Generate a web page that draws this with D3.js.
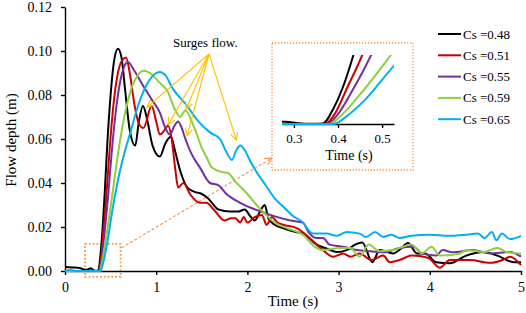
<!DOCTYPE html>
<html lang="en">
<head>
  <meta charset="UTF-8">
  <title>Flow depth vs time</title>
  <script src="https://d3js.org/d3.v7.min.js"></script>
  <style>
    body { margin: 0; background: #fff; }
    svg, svg text { font-family: "Liberation Serif", "Times New Roman", serif; }
    .axis path, .axis line { stroke: #000; stroke-width: 1.4; }
    .axis text { font-size: 14px; fill: #000; font-family: "Liberation Serif", "Times New Roman", serif; }
    .inset .axis text { font-size: 13px; }
    .series { fill: none; stroke-width: 2; stroke-linejoin: round; }
  </style>
</head>
<body>
<svg width="526" height="313"></svg>

<script>
  // Series: [time (s), flow depth (m)]
  const cs048 = [[0,0.0018],[0.08,0.0016],[0.16,0.0014],[0.22,0.0006],[0.25,0.0007],[0.28,0.0012],[0.31,0.0004],[0.34,0.0001],[0.365,0.0002],[0.39,0.008],[0.41,0.018],[0.435,0.035],[0.46,0.055],[0.5,0.08],[0.54,0.096],[0.58,0.101],[0.62,0.097],[0.66,0.082],[0.71,0.064],[0.77,0.057],[0.81,0.068],[0.855,0.075],[0.9,0.069],[0.96,0.057],[1.04,0.052],[1.1,0.058],[1.16,0.061],[1.21,0.054],[1.26,0.046],[1.34,0.038],[1.42,0.036],[1.5,0.035],[1.57,0.033],[1.68,0.028],[1.81,0.027],[1.9,0.027],[1.97,0.028],[2.03,0.025],[2.08,0.023],[2.15,0.028],[2.19,0.03],[2.23,0.024],[2.3,0.021],[2.39,0.0195],[2.5,0.018],[2.61,0.017],[2.76,0.012],[2.88,0.01],[2.98,0.0086],[3.09,0.0095],[3.18,0.012],[3.26,0.013],[3.37,0.004],[3.45,0.0095],[3.6,0.008],[3.68,0.01],[3.76,0.0127],[3.86,0.008],[3.95,0.008],[4.07,0.004],[4.22,0.0035],[4.4,0.007],[4.59,0.0086],[4.74,0.007],[4.92,0.004],[5,0.004]];
  const cs051 = [[0,0],[0.2,0],[0.37,0],[0.395,0.006],[0.42,0.018],[0.455,0.035],[0.48,0.05],[0.53,0.075],[0.58,0.09],[0.63,0.096],[0.67,0.097],[0.71,0.09],[0.76,0.076],[0.81,0.067],[0.86,0.065],[0.95,0.075],[1.0,0.068],[1.04,0.062],[1.09,0.064],[1.13,0.066],[1.17,0.06],[1.21,0.046],[1.24,0.038],[1.3,0.04],[1.37,0.035],[1.48,0.031],[1.55,0.031],[1.63,0.028],[1.75,0.023],[1.82,0.024],[1.87,0.024],[1.92,0.022],[1.96,0.0245],[2.0,0.022],[2.08,0.0245],[2.16,0.0255],[2.21,0.021],[2.27,0.0245],[2.33,0.022],[2.39,0.021],[2.54,0.0195],[2.67,0.0155],[2.8,0.0105],[2.94,0.0065],[3.05,0.008],[3.13,0.0065],[3.23,0.008],[3.36,0.005],[3.49,0.007],[3.56,0.004],[3.67,0.005],[3.8,0.007],[3.98,0.006],[4.11,0.0015],[4.22,0.005],[4.44,0.005],[4.66,0.0037],[4.8,0.005],[4.88,0.0065],[5,0.0027]];
  const cs055 = [[0,0],[0.375,0],[0.4,0.005],[0.43,0.016],[0.475,0.035],[0.5,0.048],[0.55,0.07],[0.6,0.085],[0.65,0.093],[0.69,0.095],[0.76,0.091],[0.86,0.084],[0.95,0.078],[1.04,0.072],[1.1,0.065],[1.15,0.062],[1.2,0.066],[1.24,0.068],[1.28,0.065],[1.32,0.06],[1.39,0.053],[1.48,0.047],[1.59,0.04],[1.68,0.039],[1.77,0.035],[1.92,0.031],[2.05,0.0285],[2.15,0.027],[2.25,0.0255],[2.47,0.023],[2.61,0.022],[2.67,0.0177],[2.76,0.015],[2.83,0.015],[2.9,0.012],[3.05,0.011],[3.2,0.0095],[3.35,0.009],[3.5,0.0085],[3.67,0.0105],[3.82,0.011],[3.91,0.008],[4.07,0.007],[4.14,0.0095],[4.25,0.0085],[4.47,0.0095],[4.66,0.008],[4.88,0.0086],[5,0.0065]];
  const cs059 = [[0,0],[0.38,0],[0.41,0.005],[0.45,0.015],[0.52,0.035],[0.58,0.053],[0.65,0.07],[0.72,0.082],[0.8,0.089],[0.86,0.091],[0.93,0.09],[1.04,0.0855],[1.12,0.082],[1.21,0.073],[1.26,0.07],[1.32,0.073],[1.4,0.067],[1.5,0.056],[1.56,0.051],[1.61,0.047],[1.72,0.045],[1.79,0.0445],[1.86,0.041],[2.0,0.035],[2.1,0.03],[2.17,0.027],[2.3,0.022],[2.43,0.0195],[2.61,0.0164],[2.74,0.011],[2.83,0.0095],[3.02,0.0105],[3.13,0.0105],[3.23,0.0065],[3.33,0.012],[3.45,0.009],[3.6,0.0095],[3.8,0.012],[3.91,0.008],[4.02,0.011],[4.11,0.007],[4.33,0.008],[4.4,0.0095],[4.59,0.0086],[4.74,0.0105],[4.85,0.0085],[5,0.008]];
  const cs065 = [[0,0],[0.06,0.0005],[0.12,0],[0.39,0],[0.42,0.004],[0.46,0.012],[0.527,0.0295],[0.6,0.045],[0.66,0.055],[0.71,0.062],[0.8,0.075],[0.93,0.087],[1.04,0.0905],[1.1,0.089],[1.18,0.083],[1.34,0.075],[1.45,0.0686],[1.59,0.063],[1.7,0.06],[1.77,0.054],[1.83,0.0505],[1.88,0.055],[1.92,0.057],[1.97,0.055],[2.03,0.05],[2.1,0.045],[2.2,0.039],[2.3,0.033],[2.4,0.029],[2.5,0.025],[2.61,0.022],[2.67,0.0186],[2.72,0.017],[2.87,0.017],[2.98,0.016],[3.09,0.0177],[3.23,0.017],[3.3,0.0155],[3.4,0.0177],[3.49,0.0155],[3.58,0.0165],[3.67,0.015],[3.8,0.016],[4.0,0.0165],[4.2,0.016],[4.4,0.0165],[4.53,0.017],[4.6,0.015],[4.68,0.0177],[4.73,0.014],[4.79,0.017],[4.88,0.0145],[5,0.016]];

  const seriesNames = ["Cs =0.48", "Cs =0.51", "Cs =0.55", "Cs =0.59", "Cs =0.65"];
  const seriesData = [cs048, cs051, cs055, cs059, cs065];
  const colors = ["#000000", "#cc0000", "#7030a0", "#8dcf3f", "#00b0f0"];

  const xTicks = [0, 1, 2, 3, 4, 5];
  const yTicks = [0, 0.02, 0.04, 0.06, 0.08, 0.10, 0.12];
  const insetTicks = [0.3, 0.4, 0.5];
  // surge bumps the arrows point at: [time, depth]
  const surgePoints = [[0.9, 0.0745], [1.13, 0.0665], [1.33, 0.0735], [1.34, 0.0615], [1.88, 0.0595]];

  const svg = d3.select("svg");
  const x = d3.scaleLinear().domain([0, 5]).range([65, 521]);
  const y = d3.scaleLinear().domain([0, 0.12]).range([271, 7]);

  svg.append("defs").append("clipPath").attr("id", "insetClip")
    .append("rect").attr("x", 282).attr("y", 55).attr("width", 112).attr("height", 75);

  const defs = svg.select("defs");
  [["arrowGold", "#ffc000"], ["arrowOrange", "#f79646"]].forEach(([id, c]) => {
    defs.append("marker")
      .attr("id", id)
      .attr("viewBox", "0 0 10 10")
      .attr("refX", 9).attr("refY", 5)
      .attr("markerWidth", 9).attr("markerHeight", 9)
      .attr("markerUnits", "userSpaceOnUse")
      .attr("orient", "auto")
      .append("path")
      .attr("d", "M1,1 L9,5 L1,9")
      .attr("fill", "none")
      .attr("stroke", c)
      .attr("stroke-width", 1.3);
  });

  // axes
  svg.append("g")
    .attr("class", "axis")
    .attr("transform", "translate(0,271)")
    .call(d3.axisBottom(x).tickValues(xTicks).tickFormat(d3.format("d")).tickSize(4).tickSizeOuter(0).tickPadding(7));

  svg.append("g")
    .attr("class", "axis")
    .attr("transform", "translate(65,0)")
    .call(d3.axisLeft(y).tickValues(yTicks).tickFormat(d3.format(".2f")).tickSize(4).tickSizeOuter(0).tickPadding(9));

  svg.selectAll(".axis").attr("font-family", null);

  svg.append("text")
    .attr("x", 293).attr("y", 306)
    .attr("text-anchor", "middle")
    .attr("font-size", 15)
    .text("Time (s)");

  svg.append("text")
    .attr("transform", "translate(16,140) rotate(-90)")
    .attr("text-anchor", "middle")
    .attr("font-size", 15)
    .text("Flow depth (m)");

  const line = d3.line()
    .x(d => x(d[0]))
    .y(d => y(d[1]))
    .curve(d3.curveMonotoneX);

  // zoom box + pointer to inset
  svg.append("rect")
    .attr("x", x(0.22)).attr("y", y(0.0123))
    .attr("width", x(0.61) - x(0.22)).attr("height", y(-0.0027) - y(0.0123))
    .attr("fill", "none")
    .attr("stroke", "#f79646")
    .attr("stroke-width", 1.8)
    .attr("stroke-dasharray", "1.8,2");

  svg.append("line")
    .attr("x1", x(0.62)).attr("y1", y(0.0105))
    .attr("x2", 272).attr("y2", 158)
    .attr("stroke", "#f79646")
    .attr("stroke-width", 1.1)
    .attr("stroke-dasharray", "3,2")
    .attr("marker-end", "url(#arrowOrange)");

  seriesData.forEach((s, i) => {
    svg.append("path")
      .datum(s)
      .attr("class", "series")
      .attr("stroke", colors[i])
      .attr("d", line);
  });

  // surge annotation
  svg.append("text")
    .attr("x", 173).attr("y", 47)
    .attr("font-size", 13)
    .text("Surges flow.");

  surgePoints.forEach(p => {
    svg.append("line")
      .attr("x1", 209).attr("y1", 54)
      .attr("x2", x(p[0])).attr("y2", y(p[1]))
      .attr("stroke", "#ffc000")
      .attr("stroke-width", 1.1)
      .attr("marker-end", "url(#arrowGold)");
  });

  // inset
  const inset = svg.append("g").attr("class", "inset");
  inset.append("rect")
    .attr("x", 272).attr("y", 43).attr("width", 141).attr("height", 127)
    .attr("fill", "#fff")
    .attr("stroke", "#f79646")
    .attr("stroke-width", 1.3)
    .attr("stroke-dasharray", "1.3,1.7");

  const xi = d3.scaleLinear().domain([0.273, 0.527]).range([282, 394]);
  const yi = d3.scaleLinear().domain([0, 0.035]).range([124, 55]);
  const lineInset = d3.line()
    .x(d => xi(d[0]))
    .y(d => yi(d[1]))
    .curve(d3.curveMonotoneX);

  inset.append("g")
    .attr("class", "axis")
    .attr("transform", "translate(0,124)")
    .call(d3.axisBottom(xi).tickValues(insetTicks).tickFormat(d3.format(".1f")).tickSize(4).tickSizeOuter(0).tickPadding(6))
    .attr("font-family", null);

  const insetLines = inset.append("g").attr("clip-path", "url(#insetClip)");
  seriesData.forEach((s, i) => {
    insetLines.append("path")
      .datum(s)
      .attr("class", "series")
      .attr("stroke", colors[i])
      .attr("d", lineInset);
  });

  inset.append("text")
    .attr("x", 349).attr("y", 160)
    .attr("text-anchor", "middle")
    .attr("font-size", 14)
    .text("Time (s)");

  // legend
  const legend = svg.append("g").attr("transform", "translate(438,34)");
  seriesNames.forEach((name, i) => {
    legend.append("line")
      .attr("x1", 0).attr("x2", 23)
      .attr("y1", i * 21.3).attr("y2", i * 21.3)
      .attr("stroke", colors[i])
      .attr("stroke-width", 2);
    legend.append("text")
      .attr("x", 25).attr("y", i * 21.3 + 4.5)
      .attr("font-size", 13)
      .text(name);
  });
</script>
</body>
</html>
